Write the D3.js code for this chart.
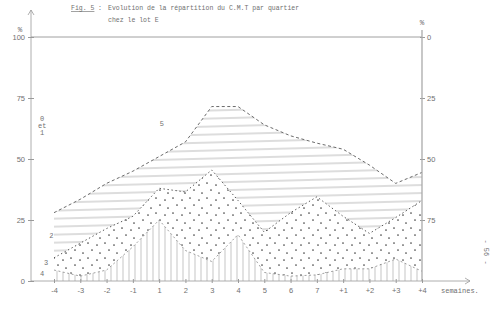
<!DOCTYPE html>
<html>
<head>
<meta charset="utf-8">
<script src="https://cdn.jsdelivr.net/npm/d3@7/dist/d3.min.js"></script>
<style>
  html, body { margin: 0; padding: 0; background: #fff; }
  svg { display: block; font-family: "Liberation Mono", "DejaVu Sans Mono", monospace; }
</style>
</head>
<body>
<div id="chart"></div>
<script>
// Weeks on the x axis (before / during / after)
const weeks = ['-4', '-3', '-2', '-1', '1', '2', '3', '4', '5', '6', '7', '+1', '+2', '+3', '+4'];

// Share (%) of each C.M.T class per week (bottom to top)
const grade4 = [4.5, 2, 4.5, 14, 25, 12.5, 8, 19, 3.5, 2, 2.5, 5, 5, 9, 4];
const grade3 = [5, 13.5, 17, 12.5, 13, 24, 37.5, 14, 16.5, 26, 32, 21.5, 14.5, 17, 29];
const grade2 = [18.5, 18, 18.5, 18.5, 13, 20.5, 26, 38.5, 44, 31.5, 22, 27.5, 28, 14, 11.5];
const grade01 = [72, 66.5, 60, 55, 49, 43, 28.5, 28.5, 36, 40.5, 43.5, 46, 52.5, 60, 55.5];

const leftTicks = [0, 25, 50, 75, 100];
const rightTicks = [0, 25, 50, 75];

// Hand-written class labels, placed in data units (week index, %)
const classLabels = [
  { lines: ['0', 'et', '1'], week: -0.45, pct: 65.5 },
  { lines: ['5'], week: 4.1, pct: 63.5 },
  { lines: ['2'], week: -0.1, pct: 17.5 },
  { lines: ['3'], week: -0.3, pct: 6.5 },
  { lines: ['4'], week: -0.45, pct: 2 },
];

const W = 494, H = 318;
const ink = '#707070';
const faint = '#9a9a9a';

const table = weeks.map((w, i) => ({ week: i, g4: grade4[i], g3: grade3[i], g2: grade2[i], g01: grade01[i] }));
const stack = d3.stack().keys(['g4', 'g3', 'g2', 'g01'])(table);

const svg = d3.select('#chart').append('svg')
  .attr('width', W).attr('height', H)
  .attr('viewBox', `0 0 ${W} ${H}`);

svg.append('rect').attr('width', W).attr('height', H).attr('fill', '#fff');

const x = d3.scaleLinear().domain([0, weeks.length - 1]).range([54, 422]);
const y = d3.scaleLinear().domain([0, 100]).range([281, 37]);
const yRight = d3.scaleLinear().domain([0, 100]).range([37, 281]);

// ── Hatching patterns ──
const defs = svg.append('defs');

const hatch = defs.append('pattern')
  .attr('id', 'hatchH').attr('patternUnits', 'userSpaceOnUse')
  .attr('width', 12).attr('height', 8)
  .attr('patternTransform', 'rotate(-1.5)');
hatch.append('line').attr('x1', 0).attr('x2', 12).attr('y1', 4).attr('y2', 4)
  .attr('stroke', '#8c8c8c').attr('stroke-width', 0.6);

const dots = defs.append('pattern')
  .attr('id', 'dots').attr('patternUnits', 'userSpaceOnUse')
  .attr('width', 17).attr('height', 15);
[[3, 3], [12, 5], [7, 10], [15, 13]].forEach(([cx, cy]) => {
  dots.append('circle').attr('cx', cx).attr('cy', cy).attr('r', 0.85).attr('fill', '#444');
});

const vlines = defs.append('pattern')
  .attr('id', 'vlines').attr('patternUnits', 'userSpaceOnUse')
  .attr('width', 6).attr('height', 10);
vlines.append('line').attr('x1', 3).attr('x2', 3).attr('y1', 0).attr('y2', 10)
  .attr('stroke', '#9c9c9c').attr('stroke-width', 0.6);

// ── Areas ──
const area = d3.area()
  .x(d => x(d.data.week))
  .y0(d => y(d[0]))
  .y1(d => y(d[1]));

const fills = { g4: 'url(#vlines)', g3: 'url(#dots)', g2: 'url(#hatchH)' };

svg.append('g').selectAll('path')
  .data(stack.filter(s => fills[s.key]))
  .join('path')
  .attr('d', area)
  .attr('fill', s => fills[s.key]);

// ── Boundary lines ──
const edge = d3.line()
  .x(d => x(d.data.week))
  .y(d => y(d[1]));

const edgeStyle = {
  g4: { dash: '2,2.5', width: 0.7, color: '#777' },
  g3: { dash: '1.4,2.6', width: 1, color: '#555' },
  g2: { dash: '3,2.5', width: 0.9, color: '#5a5a5a' },
};

svg.append('g').selectAll('path')
  .data(stack.filter(s => edgeStyle[s.key]))
  .join('path')
  .attr('d', edge)
  .attr('fill', 'none')
  .attr('stroke', s => edgeStyle[s.key].color)
  .attr('stroke-width', s => edgeStyle[s.key].width)
  .attr('stroke-dasharray', s => edgeStyle[s.key].dash);

// ── 100 % line across the top ──
svg.append('line')
  .attr('x1', 31).attr('x2', x(weeks.length - 1))
  .attr('y1', y(100)).attr('y2', y(100))
  .attr('stroke', '#888').attr('stroke-width', 0.8);

// ── Left axis ──
const leftAxis = svg.append('g')
  .attr('transform', 'translate(31,0)')
  .call(d3.axisLeft(y).tickValues(leftTicks).tickSizeInner(3).tickSizeOuter(0).tickPadding(3));
leftAxis.select('.domain').remove();
leftAxis.selectAll('line').attr('stroke', faint).attr('x2', 3).attr('x1', -3);
leftAxis.selectAll('text').attr('fill', ink).attr('font-size', '7.5px').attr('font-family', 'inherit');

svg.append('path')
  .attr('d', `M31,${y(0)}V10 M28,15L31,10L34,15`)
  .attr('fill', 'none').attr('stroke', faint).attr('stroke-width', 0.8);
svg.append('text').attr('x', 20).attr('y', 32).attr('text-anchor', 'middle')
  .attr('fill', ink).attr('font-size', '7.5px').text('%');

// ── Right axis (reversed) ──
const rx = x(weeks.length - 1);
const rightAxis = svg.append('g')
  .attr('transform', `translate(${rx},0)`)
  .call(d3.axisRight(yRight).tickValues(rightTicks).tickSizeInner(3).tickSizeOuter(0).tickPadding(2));
rightAxis.select('.domain').remove();
rightAxis.selectAll('line').attr('stroke', faint).attr('x1', -2).attr('x2', 3);
rightAxis.selectAll('text').attr('fill', ink).attr('font-size', '7.5px').attr('font-family', 'inherit');

svg.append('line')
  .attr('x1', rx).attr('x2', rx).attr('y1', 30).attr('y2', y(0))
  .attr('stroke', '#aaa').attr('stroke-width', 1.3);
svg.append('text').attr('x', rx).attr('y', 25).attr('text-anchor', 'middle')
  .attr('fill', ink).attr('font-size', '7.5px').text('%');

// ── Bottom axis ──
const bottomAxis = svg.append('g')
  .attr('transform', `translate(0,${y(0)})`)
  .call(d3.axisBottom(x).tickValues(d3.range(weeks.length)).tickFormat(i => weeks[i])
    .tickSizeInner(2).tickSizeOuter(0).tickPadding(5));
bottomAxis.select('.domain').remove();
bottomAxis.selectAll('line').attr('stroke', faint).attr('y1', -2).attr('y2', 2);
bottomAxis.selectAll('text').attr('fill', ink).attr('font-size', '7.5px').attr('font-family', 'inherit');

svg.append('path')
  .attr('d', `M31,${y(0)}H470 M465,${y(0) - 3}L470,${y(0)}L465,${y(0) + 3}`)
  .attr('fill', 'none').attr('stroke', faint).attr('stroke-width', 0.8);

svg.append('text').attr('x', 441).attr('y', y(0) + 12)
  .attr('fill', ink).attr('font-size', '7px').text('semaines.');

// ── Class labels ──
classLabels.forEach(l => {
  const t = svg.append('text')
    .attr('x', x(l.week)).attr('y', y(l.pct))
    .attr('text-anchor', 'middle')
    .attr('fill', ink).attr('font-size', '7px');
  l.lines.forEach((s, k) => {
    t.append('tspan').attr('x', x(l.week)).attr('dy', k === 0 ? 0 : 7).text(s);
  });
});

// ── Title ──
svg.append('text').attr('x', 71).attr('y', 10)
  .attr('fill', ink).attr('font-size', '6.5px')
  .attr('text-decoration', 'underline').text('Fig. 5');
svg.append('text').attr('x', 98).attr('y', 10)
  .attr('fill', ink).attr('font-size', '6.5px').text(':');
svg.append('text').attr('x', 108).attr('y', 10)
  .attr('fill', ink).attr('font-size', '6.5px')
  .text('Evolution de la répartition du C.M.T par quartier');
svg.append('text').attr('x', 108).attr('y', 22)
  .attr('fill', ink).attr('font-size', '6.5px')
  .text('chez le lot E');

// Page number, typed sideways
svg.append('text')
  .attr('transform', 'translate(484,252) rotate(90)')
  .attr('text-anchor', 'middle')
  .attr('fill', ink).attr('font-size', '7px')
  .text('- 56 -');
</script>
</body>
</html>
